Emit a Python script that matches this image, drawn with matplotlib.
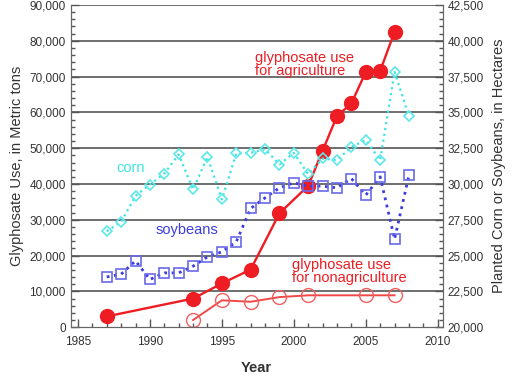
import matplotlib.pyplot as plt
from matplotlib.ticker import MultipleLocator, FuncFormatter

# glyphosate use, metric tons (left axis)
ag_years = [1987, 1993, 1995, 1997, 1999, 2001, 2002, 2003, 2004, 2005, 2006, 2007]
ag_use = [3000, 8000, 12200, 16100, 31800, 39500, 49300, 59000, 62500, 71300, 71600, 82500]
nonag_years = [1993, 1995, 1997, 1999, 2001, 2005, 2007]
nonag_use = [2000, 7500, 7100, 8400, 8900, 8900, 8900]

# planted area, hectares (right axis)
crop_years = list(range(1987, 2009))
corn = [26700, 27350, 29170, 29960, 30730, 32060, 29620, 31890, 28920, 32130, 32170,
        32430, 31360, 32170, 30680, 31780, 31660, 32590, 33060, 31660, 37830, 34730]
soybeans = [23510, 23700, 24630, 23330, 23790, 23790, 24260, 24910, 25260, 25960, 28290,
            29030, 29730, 30080, 29850, 29850, 29730, 30380, 29220, 30500, 26150, 30610]

plt.rcParams['font.family'] = ['Liberation Sans', 'DejaVu Sans']
txt = '#333333'

fig = plt.figure(figsize=(5.24, 3.84), dpi=100)
ax = fig.add_axes([0.135, 0.148, 0.71, 0.839])
ax2 = ax.twinx()

ax.set_xlim(1984.5, 2010.35)
ax.set_ylim(0, 90000)
ax2.set_ylim(20000, 42500)

for v in range(10000, 90001, 10000):
    ax.axhline(v, color='#6e6e6e', lw=1.4, zorder=1)

red = '#ee1d23'
ax.plot(ag_years, ag_use, '-o', color=red, lw=1.7, ms=10, mec=red, mfc=red, zorder=3)
ax.plot(nonag_years, nonag_use, '-o', color='#f04848', lw=1.4, ms=10,
        mfc='none', mec='#f06060', mew=1.0, zorder=3)

ax2.plot(crop_years, corn, ':D', color='#3ee4e4', lw=1.6, ms=5.5,
         mfc='none', mec='#5ee8e8', mew=1.2)
ax2.plot(crop_years, soybeans, ':s', color='#3c3ce0', lw=2.0, ms=7,
         mfc='none', mec='#6a6ae8', mew=1.2)

ax.text(1997.3, 73400, 'glyphosate use\nfor agriculture', color=red, fontsize=10.5,
        linespacing=0.9, va='center')
ax2.text(1987.7, 31100, 'corn', color='#3ee4e4', fontsize=10.5, va='center')
ax2.text(1990.4, 26770, 'soybeans', color='#3c3ce0', fontsize=10.5, va='center')
ax2.text(1999.9, 23900, 'glyphosate use\nfor nonagriculture', color=red, fontsize=10.5,
         linespacing=0.9, va='center')

comma = FuncFormatter(lambda v, p: f'{int(v):,}')
ax.xaxis.set_major_locator(MultipleLocator(5))
ax.xaxis.set_minor_locator(MultipleLocator(1))
ax.yaxis.set_major_locator(MultipleLocator(10000))
ax.yaxis.set_minor_locator(MultipleLocator(2000))
ax.yaxis.set_major_formatter(comma)
ax2.yaxis.set_major_locator(MultipleLocator(2500))
ax2.yaxis.set_minor_locator(MultipleLocator(500))
ax2.yaxis.set_major_formatter(comma)

for a in (ax, ax2):
    a.tick_params(which='both', direction='in', colors='#555555', labelcolor=txt,
                  labelsize=8.5, width=1)
    a.tick_params(which='major', length=6)
    a.tick_params(which='minor', length=3)
    for s in a.spines.values():
        s.set_color('#666666')
    a.spines['top'].set_visible(False)
ax.tick_params(axis='x', pad=6)

ax.set_xlabel('Year', fontsize=10.5, color=txt, fontweight='bold', labelpad=10)
ax.set_ylabel('Glyphosate Use, in Metric tons', fontsize=10.5, color=txt, labelpad=4)
ax2.set_ylabel('Planted Corn or Soybeans, in Hectares', fontsize=10.5, color=txt,
               labelpad=6)

fig.savefig('out.png', dpi=100)
